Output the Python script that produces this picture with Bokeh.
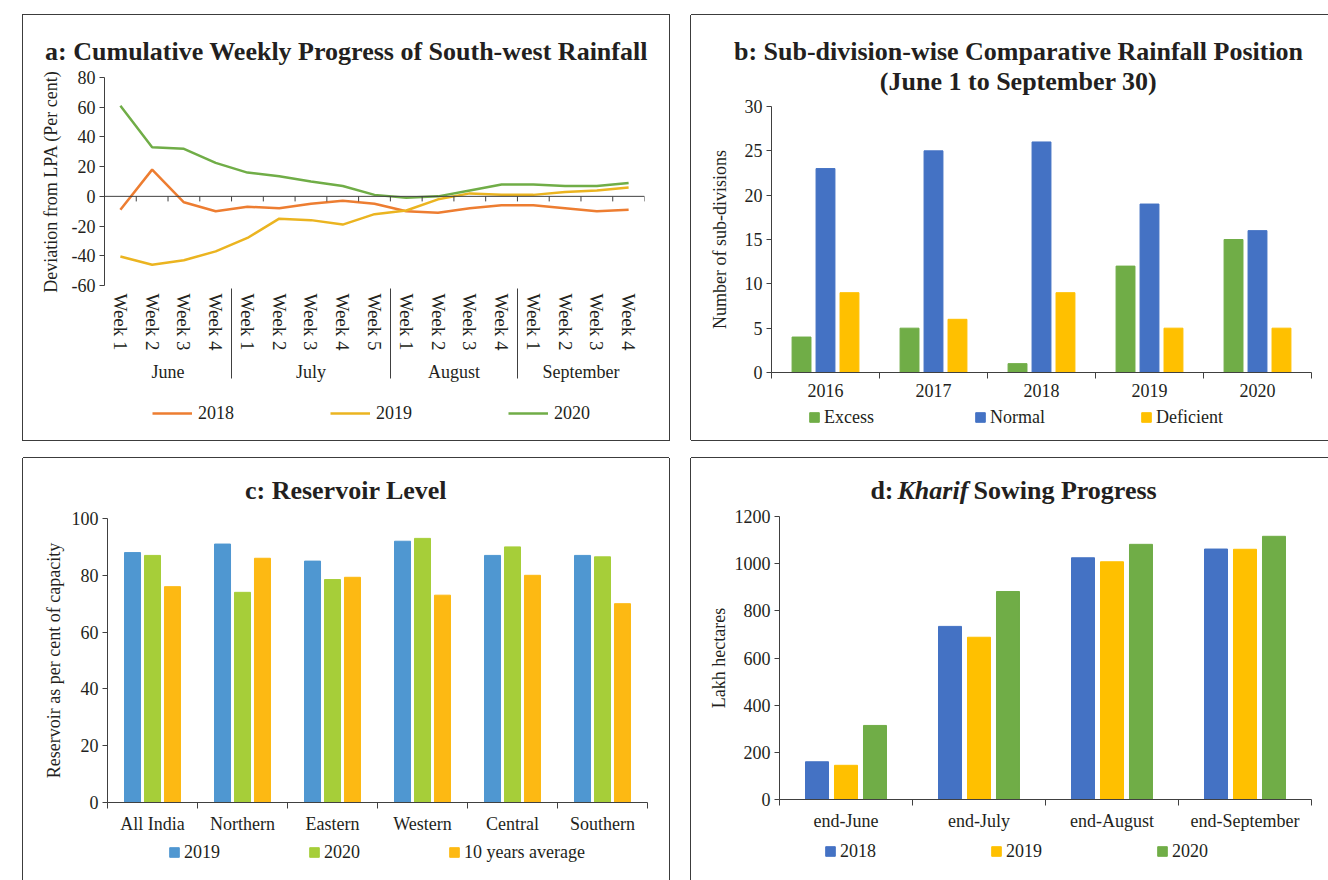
from bokeh.plotting import figure
from bokeh.models import (FactorRange, Range1d, FixedTicker, Legend, LegendItem,
                          Span, ColumnDataSource, Label)
from bokeh.transform import dodge
from bokeh.embed import file_html
from bokeh.resources import INLINE

# ---------------- data ----------------
# a: cumulative weekly progress of south-west rainfall (deviation from LPA, %)
months = ["June", "July", "August", "September"]
weeks_per_month = [4, 5, 4, 4]
dev_2018 = [-9, 18, -4, -10, -7, -8, -5, -3, -5, -10, -11, -8, -6, -6, -8, -10, -9]
dev_2019 = [-40.5, -46, -43, -37, -28, -15, -16, -19, -12, -9.5, -2, 2, 1, 1, 3, 4, 6]
dev_2020 = [61, 33, 32, 22.5, 16, 13.5, 10, 7, 1, -1, 0, 4, 8, 8, 7, 7, 9]

# b: sub-division-wise comparative rainfall position
years_b = ["2016", "2017", "2018", "2019", "2020"]
excess = [4, 5, 1, 12, 15]
normal = [23, 25, 26, 19, 16]
deficient = [9, 6, 9, 5, 5]

# c: reservoir level
regions = ["All India", "Northern", "Eastern", "Western", "Central", "Southern"]
res_2019 = [88, 91, 85, 92, 87, 87]
res_2020 = [87, 74, 78.5, 93, 90, 86.5]
res_10yr = [76, 86, 79.3, 73, 80, 70]

# d: kharif sowing progress (lakh hectares)
periods = ["end-June", "end-July", "end-August", "end-September"]
sow_2018 = [160, 734, 1025, 1062]
sow_2019 = [145, 688, 1008, 1061]
sow_2020 = [314, 882, 1082, 1116]

# ---------------- style ----------------
SERIF = "Liberation Serif"
TXT = "#231f20"
AX = "#404040"
BORDER = "#3c3c3c"
FS = "18px"
TFS = "26px"
C_ORANGE, C_GOLD, C_GREEN = "#ED7D31", "#EBB420", "#70AD47"
C_BLUE, C_YELLOW = "#4472C4", "#FFC000"
C_LBLUE, C_LGREEN, C_AMBER = "#4F97D1", "#A6CE39", "#FDB913"


def place(p, left, top, shadow=None):
    st = {"position": "absolute", "left": "%dpx" % left, "top": "%dpx" % top}
    if shadow:
        st["box-shadow"] = shadow
    p.styles = st


def base_fig(w, h, x_range, y_range, left, right, top, bottom):
    p = figure(width=w, height=h, x_range=x_range, y_range=y_range,
               output_backend="svg", toolbar_location=None,
               min_border_left=left, min_border_right=right,
               min_border_top=top, min_border_bottom=bottom)
    p.outline_line_color = None
    p.xgrid.grid_line_color = None
    p.ygrid.grid_line_color = None
    p.background_fill_color = "white"
    p.border_fill_color = "white"
    for ax in (p.xaxis[0], p.yaxis[0]):
        ax.major_label_text_font = SERIF
        ax.major_label_text_font_size = FS
        ax.major_label_text_color = TXT
        ax.axis_label_text_font = SERIF
        ax.axis_label_text_font_size = FS
        ax.axis_label_text_font_style = "normal"
        ax.axis_label_text_color = TXT
        ax.axis_line_color = AX
        ax.major_tick_line_color = AX
        ax.minor_tick_line_color = None
    p.yaxis.major_tick_in = 0
    p.yaxis.major_tick_out = 5
    p.yaxis.major_label_standoff = 4
    return p


def overlay_fig(w, h):
    # transparent pixel-scaled figure used for titles and legends
    o = figure(width=w, height=h, x_range=Range1d(0, w), y_range=Range1d(h, 0),
               output_backend="svg", toolbar_location=None, min_border=0,
               x_axis_location=None, y_axis_location=None)
    o.outline_line_color = None
    o.grid.visible = False
    o.background_fill_alpha = 0
    o.border_fill_alpha = 0
    return o


def title_fig(w, h, parts):
    o = overlay_fig(w, h)
    for txt, x, y, align, style in parts:
        o.add_layout(Label(x=x, y=y, text=txt, text_align=align, text_baseline="alphabetic",
                           text_font=SERIF, text_font_style=style, text_font_size=TFS,
                           text_color=TXT))
    return o


def legend_fig(w, h, labels, colors, kind, x, spacing, label_width):
    o = overlay_fig(w, h)
    items = []
    for lab, col in zip(labels, colors):
        # hidden proxy renderers: they only supply the legend swatches
        if kind == "line":
            r = o.line(x=[0, 1], y=[0, 0], line_color=col, line_width=2.5, visible=False)
        else:
            r = o.vbar(x=[0], top=[1], width=1, fill_color=col, line_color=col, visible=False)
        items.append(LegendItem(label=lab, renderers=[r]))
    gw, gh, so = (40, 20, 6) if kind == "line" else (12, 12, 4)
    leg = Legend(items=items, orientation="horizontal", location=(x, (h - 21) / 2.0),
                 glyph_width=gw, glyph_height=gh, label_standoff=so,
                 spacing=spacing, padding=0, margin=0, label_width=label_width,
                 label_height=20, border_line_color=None, background_fill_alpha=0,
                 label_text_font=SERIF, label_text_font_size=FS, label_text_color=TXT)
    o.add_layout(leg, "center")
    return o


def numeric_cat_axis(p, cats):
    centers = [i + 0.5 for i in range(len(cats))]
    bounds = list(range(len(cats) + 1))
    p.xaxis.ticker = FixedTicker(ticks=centers, minor_ticks=bounds)
    p.xaxis.major_label_overrides = {c: t for c, t in zip(centers, cats)}
    p.xaxis.major_tick_out = 0
    p.xaxis.major_tick_in = 0
    p.xaxis.major_tick_line_color = None
    p.xaxis.minor_tick_line_color = AX
    p.xaxis.minor_tick_out = 6
    p.xaxis.minor_tick_in = 0
    p.xaxis.major_label_standoff = 5
    return centers


roots = []
overlays = []

# ---------------- panel a ----------------
factors = [(m, "Week %d" % (i + 1)) for m, n in zip(months, weeks_per_month) for i in range(n)]
pa = base_fig(646, 425,
              FactorRange(*factors, group_padding=0, factor_padding=0, range_padding=0),
              Range1d(-60, 80), 81, 25, 62, 155)
src_a = ColumnDataSource(dict(x=factors, y18=dev_2018, y19=dev_2019, y20=dev_2020))
pa.line("x", "y18", source=src_a, line_color=C_ORANGE, line_width=2.5)
pa.line("x", "y19", source=src_a, line_color=C_GOLD, line_width=2.5)
pa.line("x", "y20", source=src_a, line_color=C_GREEN, line_width=2.5)
pa.add_layout(Span(location=0, dimension="width", line_color=AX, line_width=1))
bnd = list(range(1, len(factors) + 1))
pa.segment(x0=bnd, y0=[0] * len(bnd), x1=bnd, y1=[-3.4] * len(bnd), line_color=AX, line_width=1)
ticks_a = list(range(-60, 81, 20))
pa.yaxis.ticker = FixedTicker(ticks=ticks_a)
pa.yaxis.major_label_overrides = {t: str(t) for t in ticks_a if t < 0}
pa.yaxis.axis_label = "Deviation from LPA (Per cent)"
pa.yaxis.axis_label_standoff = 8
xa = pa.xaxis[0]
xa.axis_line_color = None
xa.major_tick_line_color = None
xa.major_tick_out = 0
xa.major_label_orientation = "vertical"
xa.major_label_standoff = 8
xa.major_label_text_font_size = "19px"
xa.group_label_orientation = "horizontal"
xa.group_text_font = SERIF
xa.group_text_font_size = FS
xa.group_text_color = TXT
xa.group_text_font_style = "normal"
xa.separator_line_color = AX
xa.separator_line_width = 1
place(pa, 23, 15, "0 0 0 1px %s" % BORDER)
roots.append(pa)
ta = title_fig(646, 62, [("a: Cumulative Weekly Progress of South-west Rainfall", 323, 36, "center", "bold")])
place(ta, 23, 15)
la = legend_fig(646, 40, ["2018", "2019", "2020"], [C_ORANGE, C_GOLD, C_GREEN], "line", 129, 96, 20)
place(la, 23, 393)
overlays += [ta, la]

# ---------------- panel b ----------------
pb = base_fig(637, 425, Range1d(0, len(years_b)), Range1d(0, 30), 80, 17, 91, 68)
cb = numeric_cat_axis(pb, years_b)
src_b = ColumnDataSource(dict(x=cb, ex=excess, no=normal, de=deficient))
pb.vbar(x=dodge("x", -0.222), top="ex", width=0.175, source=src_b, color=C_GREEN)
pb.vbar(x="x", top="no", width=0.175, source=src_b, color=C_BLUE)
pb.vbar(x=dodge("x", 0.222), top="de", width=0.175, source=src_b, color=C_YELLOW)
pb.yaxis.ticker = FixedTicker(ticks=list(range(0, 31, 5)))
pb.yaxis.axis_label = "Number of sub-divisions"
pb.yaxis.axis_label_standoff = 12
place(pb, 691, 15, "-1px 0 0 0 %s, 0 -1px 0 0 %s, 0 1px 0 0 %s" % (BORDER, BORDER, BORDER))
roots.append(pb)
tb = title_fig(637, 91, [("b: Sub-division-wise Comparative Rainfall Position", 327, 36, "center", "bold"),
                         ("(June 1 to September 30)", 327, 66, "center", "bold")])
place(tb, 691, 15)
lb = legend_fig(637, 40, ["Excess", "Normal", "Deficient"], [C_GREEN, C_BLUE, C_YELLOW], "bar", 117, 95, 55)
place(lb, 691, 397)
overlays += [tb, lb]

# ---------------- panel c ----------------
pc = base_fig(646, 422, Range1d(0, len(regions)), Range1d(0, 100), 84, 22, 60, 78)
cc = numeric_cat_axis(pc, regions)
src_c = ColumnDataSource(dict(x=cc, a=res_2019, b=res_2020, c=res_10yr))
pc.vbar(x=dodge("x", -0.222), top="a", width=0.178, source=src_c, color=C_LBLUE)
pc.vbar(x="x", top="b", width=0.178, source=src_c, color=C_LGREEN)
pc.vbar(x=dodge("x", 0.222), top="c", width=0.178, source=src_c, color=C_AMBER)
pc.yaxis.ticker = FixedTicker(ticks=list(range(0, 101, 20)))
pc.yaxis.axis_label = "Reservoir as per cent of capacity"
pc.yaxis.axis_label_standoff = 5
place(pc, 23, 458, "-1px 0 0 0 %s, 0 -1px 0 0 %s, 1px 0 0 0 %s" % (BORDER, BORDER, BORDER))
roots.append(pc)
tc = title_fig(646, 60, [("c: Reservoir Level", 322.5, 32, "center", "bold")])
place(tc, 23, 458)
lc = legend_fig(646, 40, ["2019", "2020", "10 years average"], [C_LBLUE, C_LGREEN, C_AMBER], "bar", 145, 84, 40)
place(lc, 23, 832)
overlays += [tc, lc]

# ---------------- panel d ----------------
pd_ = base_fig(637, 422, Range1d(0, len(periods)), Range1d(0, 1200), 88, 17, 58, 81)
cd = numeric_cat_axis(pd_, periods)
src_d = ColumnDataSource(dict(x=cd, a=sow_2018, b=sow_2019, c=sow_2020))
pd_.vbar(x=dodge("x", -0.218), top="a", width=0.173, source=src_d, color=C_BLUE)
pd_.vbar(x="x", top="b", width=0.173, source=src_d, color=C_YELLOW)
pd_.vbar(x=dodge("x", 0.218), top="c", width=0.173, source=src_d, color=C_GREEN)
pd_.yaxis.ticker = FixedTicker(ticks=list(range(0, 1201, 200)))
pd_.yaxis.axis_label = "Lakh hectares"
pd_.yaxis.axis_label_standoff = 3
place(pd_, 691, 458, "-1px 0 0 0 %s, 0 -1px 0 0 %s" % (BORDER, BORDER))
roots.append(pd_)
td = title_fig(637, 58, [("d:", 202, 32, "right", "bold"),
                         ("Kharif", 206, 32, "left", "bold italic"),
                         ("Sowing Progress", 282, 32, "left", "bold")])
place(td, 691, 458)
ld = legend_fig(637, 40, ["2018", "2019", "2020"], [C_BLUE, C_YELLOW, C_GREEN], "bar", 133, 110, 40)
place(ld, 691, 831)
overlays += [td, ld]

open("out.html", "w").write(file_html(roots + overlays, INLINE))
